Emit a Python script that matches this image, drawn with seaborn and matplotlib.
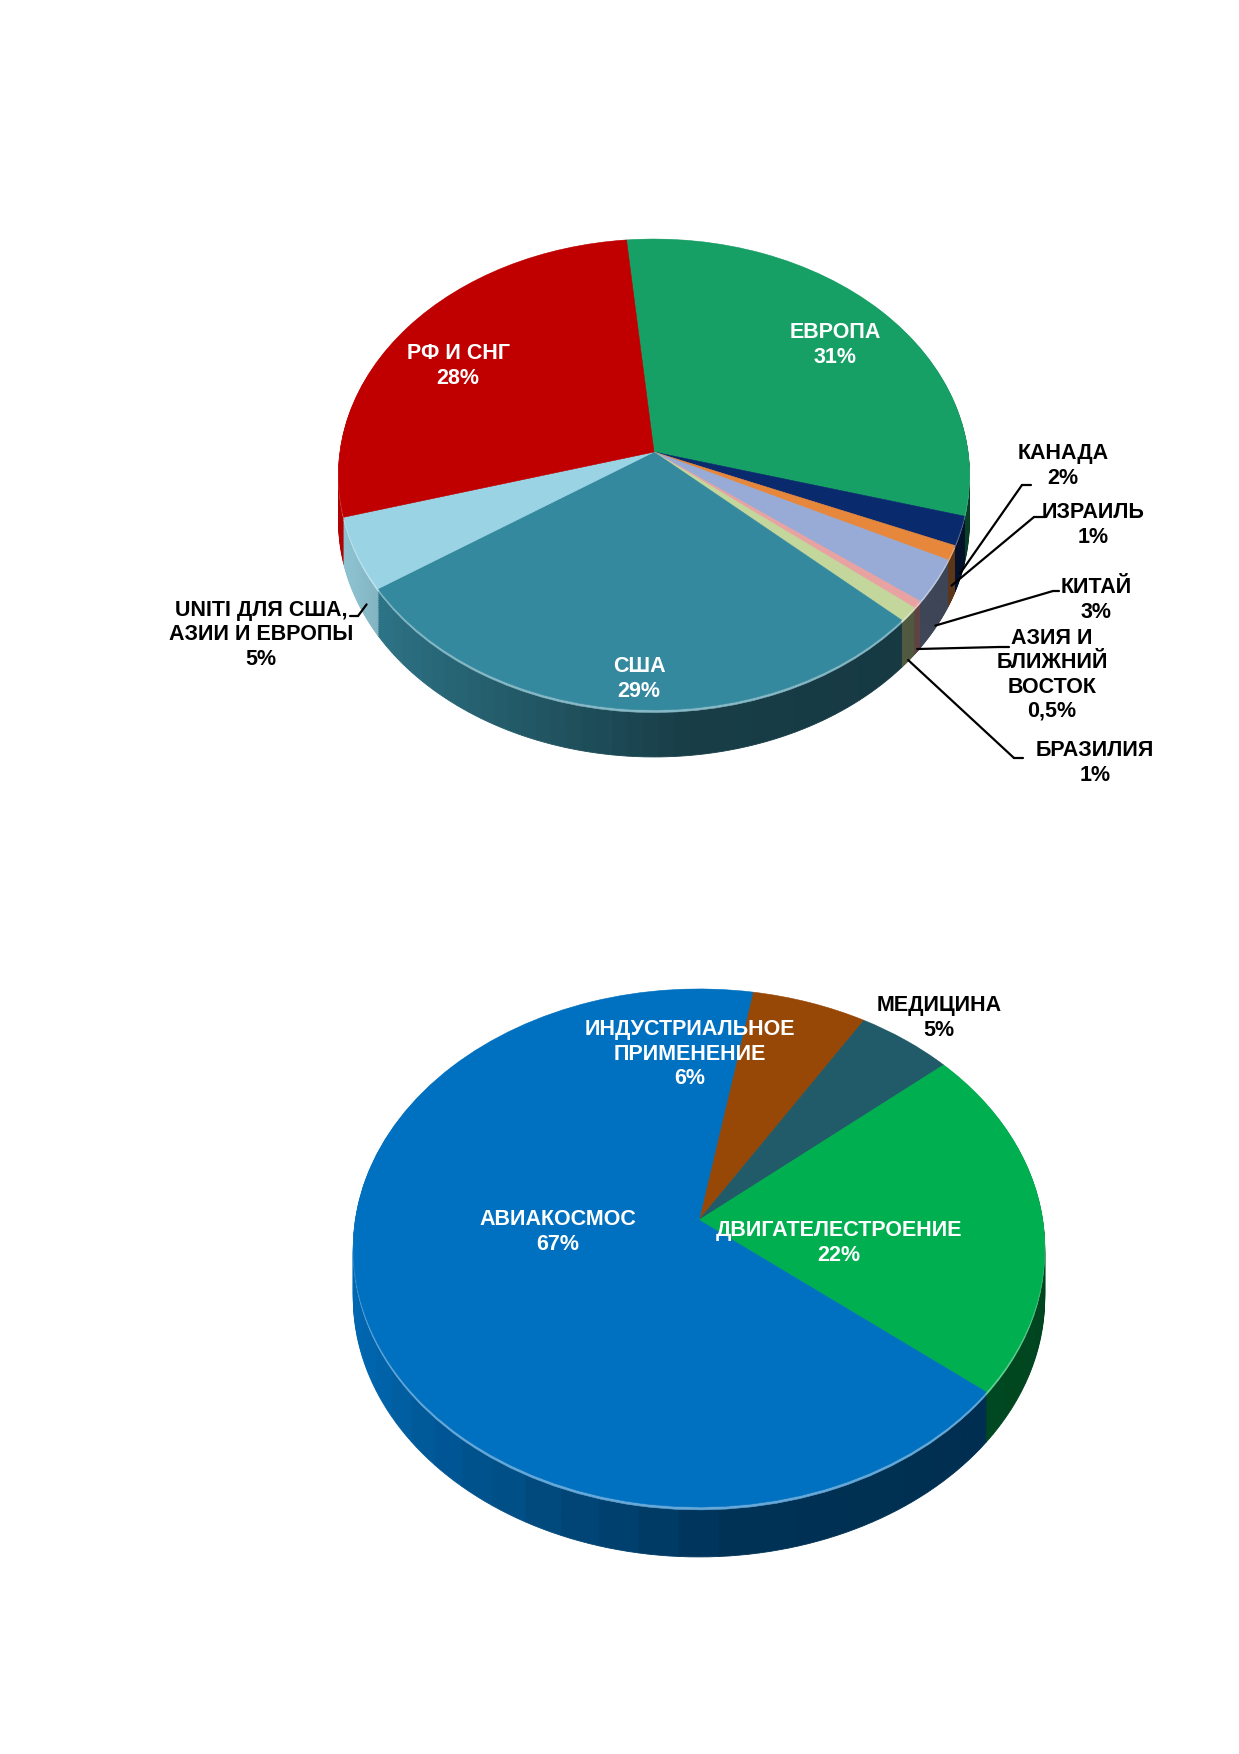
import numpy as np
import matplotlib
matplotlib.use("Agg")
import matplotlib.pyplot as plt
import matplotlib.colors as mcolors
from matplotlib.lines import Line2D
from matplotlib.transforms import Transform, Affine2D
import seaborn as sns

# ---------------- data ----------------
geo_labels = ['ЕВРОПА', 'КАНАДА', 'ИЗРАИЛЬ', 'КИТАЙ', 'АЗИЯ И\nБЛИЖНИЙ\nВОСТОК',
              'БРАЗИЛИЯ', 'США', 'UNITI ДЛЯ США,\nАЗИИ И ЕВРОПЫ', 'РФ И СНГ']
geo_values = [31, 2, 1, 3, 0.5, 1, 29, 5, 28]
geo_pct = ['31%', '2%', '1%', '3%', '0,5%', '1%', '29%', '5%', '28%']
geo_colors = ['#17A065', '#0A2A6E', '#E6873C', '#98ABD6', '#E8A2A2',
              '#C3D69B', '#35899F', '#9AD4E4', '#C00000']

app_labels = ['ИНДУСТРИАЛЬНОЕ\nПРИМЕНЕНИЕ', 'МЕДИЦИНА', 'ДВИГАТЕЛЕСТРОЕНИЕ', 'АВИАКОСМОС']
app_values = [6, 5, 22, 67]
app_pct = ['6%', '5%', '22%', '67%']
app_colors = ['#974806', '#215A68', '#00B050', '#0070C0']

# ---------------- style ----------------
sns.set_theme(style="white")
plt.rcParams['font.family'] = ['Liberation Sans', 'DejaVu Sans']

W, H = 1239, 1754
fig = plt.figure(figsize=(W / 100, H / 100), dpi=100)
fig.patch.set_facecolor('white')


class Persp(Transform):
    """Simple perspective tilt: far side (y>0) shrinks, near side grows."""
    input_dims = output_dims = 2
    is_separable = False
    has_inverse = False

    def __init__(self, k):
        super().__init__()
        self.k = k

    def transform_non_affine(self, values):
        v = np.asarray(values, dtype=float)
        w = 1.0 + self.k * v[:, 1]
        return v / w[:, None]


def fpos(px, py):
    return px / W, 1 - py / H


def shade(theta):
    return np.interp(theta, [0, 90, 180, 205, 240, 275, 360],
                     [0.40, 0.50, 0.95, 0.90, 0.70, 0.45, 0.38])


def pie3d(ax, values, colors, startangle, depth, k, nsub=40, nlayers=28):
    persp = Persp(k)
    total = float(sum(values))
    sub_vals, sub_cols = [], []
    cum = 0.0
    for v, c in zip(values, colors):
        rgb = np.array(mcolors.to_rgb(c))
        for j in range(nsub):
            mid = cum + v * (j + 0.5) / nsub
            theta = (startangle - 360.0 * mid / total) % 360
            sub_vals.append(v / nsub)
            sub_cols.append(tuple(np.clip(rgb * shade(theta), 0, 1)))
        cum += v
    # side wall: stacked, shaded copies shifted down on screen
    for off in np.linspace(depth, 0.004, nlayers):
        tr = persp + Affine2D().translate(0, -off) + ax.transData
        wedges, _ = ax.pie(sub_vals, colors=sub_cols, startangle=startangle,
                           counterclock=False, radius=1,
                           wedgeprops=dict(linewidth=0.6))
        for w in wedges:
            w.set_edgecolor(w.get_facecolor())
            w.set_transform(tr)
    # thin light rim just under the top face
    rim_cols = [tuple(np.array(mcolors.to_rgb(c)) * 0.6 + 0.4) for c in colors]
    wedges, _ = ax.pie(values, colors=rim_cols, startangle=startangle,
                       counterclock=False, radius=1,
                       wedgeprops=dict(linewidth=0.4))
    for w in wedges:
        w.set_edgecolor(w.get_facecolor())
        w.set_transform(persp + Affine2D().translate(0, -0.011) + ax.transData)
    # top face
    wedges, _ = ax.pie(values, colors=colors, startangle=startangle,
                       counterclock=False, radius=1,
                       wedgeprops=dict(linewidth=0.4))
    for w in wedges:
        w.set_edgecolor(w.get_facecolor())
        w.set_transform(persp + ax.transData)
    starts = startangle - 360.0 * (np.cumsum(values) - np.array(values)) / total
    spans = 360.0 * np.array(values) / total
    return starts, spans, persp


def setup(ax, cx, cy, hw, hh, top_px, bot_px):
    ax.set_aspect('auto')
    ax.set_xlim(-cx / hw, (W - cx) / hw)
    ax.set_ylim((cy - bot_px) / hh, (cy - top_px) / hh)
    ax.axis('off')


FS = 15.5
txt_kw = dict(ha='center', va='center', fontsize=FS, fontweight='bold',
              multialignment='center', linespacing=1.2)

# ---------------- chart 1 ----------------
ax1 = fig.add_axes([0, 0.5, 1, 0.5])
depth1, k1 = 0.2015, 0.0955
starts1, spans1, persp1 = pie3d(ax1, geo_values, geo_colors, 95.5, depth1, k1)
setup(ax1, 654, 452, 314, 233.3, 0, 877)

inside1 = {0: (835, 345), 8: (458, 366), 6: (639, 679)}
for i, (px, py) in inside1.items():
    fig.text(*fpos(px, py), f"{geo_labels[i]}\n{geo_pct[i]}", color='white', **txt_kw)

# outside labels: index -> (text center, stub start, stub end, wall fraction, position in wedge)
outside1 = {
    1: ((1063, 466), (1031, 485), (1022, 485), 0.9, 0.5),
    2: ((1093, 525), (1045, 517), (1034, 517), 0.7, 0.5),
    3: ((1096, 600), (1059, 591), (1053, 591), 0.95, 0.5),
    4: ((1052, 675), (1009, 647), (999, 647), 0.95, 0.5),
    5: ((1095, 763), (1023, 758), (1014, 758), 0.98, 0.5),
    7: ((261, 635), (350, 616), (358, 616), 0.7, 0.25),
}
for i, (tc, s0, s1, frac, pos) in outside1.items():
    fig.text(*fpos(*tc), f"{geo_labels[i]}\n{geo_pct[i]}", color='black', **txt_kw)
    fig.add_artist(Line2D([fpos(*s0)[0], fpos(*s1)[0]], [fpos(*s0)[1], fpos(*s1)[1]],
                          transform=fig.transFigure, color='black', lw=1.6))
    ang = np.radians(starts1[i] - pos * spans1[i])
    ex, ey = persp1.transform(np.array([[np.cos(ang), np.sin(ang)]]))[0]
    ax1.annotate('', xy=(ex, ey - frac * depth1), xycoords='data', xytext=fpos(*s1),
                 textcoords='figure fraction',
                 arrowprops=dict(arrowstyle='-', color='black', lw=1.6,
                                 shrinkA=0, shrinkB=0))

# ---------------- chart 2 ----------------
ax2 = fig.add_axes([0, 0, 1, 0.5])
depth2, k2 = 0.195, 0.108
pie3d(ax2, app_values, app_colors, 80, depth2, k2)
setup(ax2, 699, 1220, 343.7, 256, 877, 1754)

labels2 = {0: ((690, 1054), 'white'), 1: ((939, 1018), 'black'),
           2: ((839, 1243), 'white'), 3: ((558, 1232), 'white')}
for i, ((px, py), col) in labels2.items():
    fig.text(*fpos(px, py), f"{app_labels[i]}\n{app_pct[i]}", color=col, **txt_kw)

fig.savefig('out.png', dpi=100, facecolor='white')
